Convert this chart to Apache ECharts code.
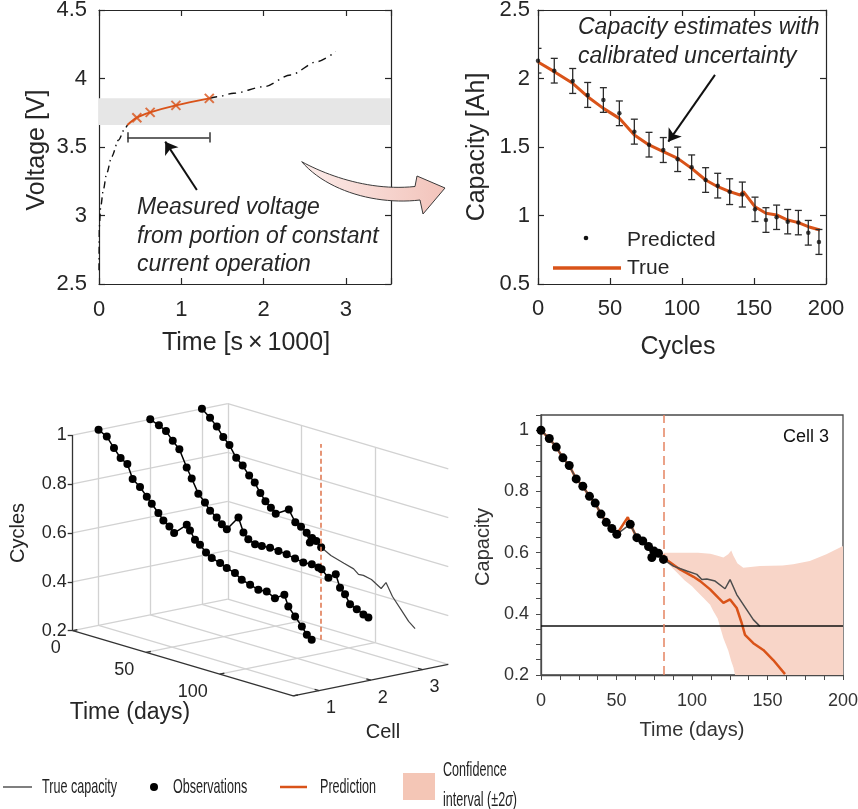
<!DOCTYPE html>
<html>
<head>
<meta charset="utf-8">
<script src="https://cdn.jsdelivr.net/npm/echarts/dist/echarts.min.js"></script>
<style>
  html, body { margin: 0; padding: 0; background: #fff; }
  #chart { width: 858px; height: 809px; }
</style>
</head>
<body>
<div id="chart"></div>
<script>
// ---- panel a: voltage during constant current charge ----
const voltLowTime = [0, 0.004, 0.02, 0.053, 0.094, 0.155, 0.236, 0.317, 0.345];
const voltLowV = [2.6, 2.92, 3.06, 3.19, 3.31, 3.43, 3.55, 3.636, 3.661];
const measTime = [0.345, 0.46, 0.622, 0.935, 1.341];
const measV = [3.661, 3.714, 3.753, 3.804, 3.855];
const voltHighTime = [1.341, 1.435, 1.638, 2.004, 2.33, 2.65, 2.878];
const voltHighV = [3.855, 3.867, 3.892, 3.94, 4.026, 4.123, 4.196];
const voltBand = [3.661, 3.855];
const measSpan = [0.345, 1.341];
const measSpanV = 3.57;
const measArrow = [[1.19, 3.186], [0.805, 3.539]];

// ---- panel b: capacity estimates ----
const cycPred = [0, 11.3, 24.1, 34.5, 45.4, 56.5, 66.9, 77.1, 87, 97, 106.7, 116.4, 124.8, 133.1, 141.9, 150.7, 158.3, 165.7, 173.4, 180.8, 187.7, 195.1];
const capPred = [2.13, 2.057, 1.982, 1.88, 1.843, 1.746, 1.612, 1.517, 1.478, 1.41, 1.352, 1.259, 1.218, 1.174, 1.153, 1.045, 0.967, 0.987, 0.955, 0.948, 0.874, 0.807];
const capErr = [0.09, 0.09, 0.091, 0.091, 0.09, 0.09, 0.091, 0.09, 0.091, 0.089, 0.09, 0.09, 0.09, 0.094, 0.091, 0.089, 0.09, 0.089, 0.089, 0.089, 0.09, 0.091];
const cycTrue = [0, 11.3, 24.1, 34.5, 45.4, 56.5, 66.9, 77.1, 87, 97, 106.7, 116.4, 124.8, 133.1, 140.3, 142.6, 150.7, 158.3, 165.7, 173.4, 180.8, 187.7, 195.8];
const capTrue = [2.12, 2.05, 1.965, 1.867, 1.782, 1.709, 1.588, 1.515, 1.466, 1.417, 1.344, 1.259, 1.21, 1.174, 1.15, 1.174, 1.064, 1.016, 1.004, 0.967, 0.948, 0.918, 0.894];
const capArrow = [[122.9, 2.026], [90.5, 1.539]];

// ---- panel c: three cells, normalised capacity vs days ----
const cell1Day = [0, 5.6, 10.5, 15, 19.6, 23.2, 28.2, 32.8, 36.2, 40.7, 44.1, 48.2, 51.4, 60, 62.2, 65.6, 69, 73.1, 77, 82.7, 87.2, 92.8, 97.4, 103.1, 108.7, 114.4, 120, 126.4, 129.1, 133.7, 138.3, 141.7, 145];
const cell1Cap = [1.0, 0.982, 0.944, 0.911, 0.895, 0.84, 0.816, 0.785, 0.762, 0.732, 0.708, 0.69, 0.669, 0.718, 0.699, 0.667, 0.653, 0.628, 0.613, 0.602, 0.59, 0.579, 0.56, 0.55, 0.539, 0.542, 0.525, 0.55, 0.507, 0.474, 0.442, 0.414, 0.399];
const cell2Day = [0, 5.9, 10.7, 15.3, 19.8, 24.8, 28.2, 32.7, 37.2, 40.7, 45.2, 48.7, 52.1, 60, 63.4, 66.7, 71.3, 75.9, 81.5, 87.2, 92.8, 98.5, 104.1, 109.9, 114.4, 116.6, 121.2, 126.2, 129.1, 132.5, 135.9, 140.5, 145, 148.4];
const cell2Cap = [1.0, 0.986, 0.971, 0.939, 0.913, 0.847, 0.808, 0.754, 0.726, 0.698, 0.679, 0.657, 0.643, 0.705, 0.65, 0.628, 0.616, 0.617, 0.62, 0.617, 0.613, 0.606, 0.6, 0.603, 0.597, 0.594, 0.568, 0.591, 0.541, 0.52, 0.485, 0.473, 0.46, 0.453];
const dayTicks3 = [0, 50, 100];
const cellTicks3 = [1, 2, 3];
const capTicks3 = [0.2, 0.4, 0.6, 0.8, 1];

// ---- panel d: cell 3 observations and forecast ----
const obsDay = [0, 5.5, 10.1, 14.5, 18.7, 23.3, 27.7, 32.1, 35.9, 39.7, 43.2, 46.9, 50.2, 59.1, 63.5, 67.4, 71.2, 73.4, 74.9, 77.8, 81.1];
const obsCap = [1.0, 0.973, 0.945, 0.91, 0.885, 0.841, 0.817, 0.784, 0.762, 0.726, 0.699, 0.679, 0.66, 0.693, 0.649, 0.638, 0.62, 0.584, 0.605, 0.598, 0.578];
const trueTailDay = [87.7, 96.6, 103.2, 106.5, 109.8, 115.3, 121.9, 125.2, 129.6, 136.2, 140.6, 145];
const trueTailCap = [0.556, 0.54, 0.529, 0.512, 0.514, 0.507, 0.482, 0.512, 0.463, 0.414, 0.381, 0.359];
const predDay = [0, 5.5, 10.1, 14.5, 18.7, 23.3, 27.7, 32.1, 35.9, 39.7, 43.2, 46.9, 50.2, 57.5, 59.1, 63.5, 67.4, 71.2, 74.9, 77.8, 81.1, 83.3, 92.1, 101, 105.4, 112, 117.5, 120.8, 125.2, 129.6, 132.9, 135.1, 140.6, 147.2, 153.8, 161.6];
const predCap = [1.0, 0.973, 0.945, 0.91, 0.885, 0.841, 0.817, 0.784, 0.762, 0.726, 0.699, 0.679, 0.66, 0.716, 0.693, 0.649, 0.638, 0.62, 0.6, 0.598, 0.578, 0.576, 0.545, 0.521, 0.507, 0.48, 0.452, 0.436, 0.447, 0.419, 0.37, 0.331, 0.304, 0.282, 0.249, 0.203];
const ciDay = [81.1, 85, 90, 95, 100, 104, 108, 112, 114, 117, 120.8, 124, 126, 127.4, 128.5, 130, 134, 145, 160, 167, 178, 189, 200];
const ciUpper = [0.6, 0.6, 0.6, 0.6, 0.6, 0.6, 0.598, 0.596, 0.594, 0.59, 0.584, 0.595, 0.607, 0.59, 0.58, 0.565, 0.551, 0.556, 0.558, 0.562, 0.573, 0.595, 0.622];
const ciLower = [0.58, 0.56, 0.535, 0.51, 0.49, 0.47, 0.45, 0.43, 0.41, 0.385, 0.32, 0.28, 0.245, 0.225, 0.2, 0.2, 0.2, 0.2, 0.2, 0.2, 0.2, 0.2, 0.2];
const eolCap = 0.357;
const cutDay = 81;

const FONT = '"Liberation Sans", Arial, Helvetica, sans-serif';
const INK = '#262626';
const ORANGE = '#d95319';
const PINK = '#f8d5c8';
const zip = (xs, ys) => xs.map((x, i) => [x, ys[i]]);

// oblique projection of the 3-D box (days, cell, capacity) into the pixel grid
const box3 = { x0: 72.7, y0: 630.7, dxT: 1.47, dyT: 0.435, dxC: 51.7, dyC: -10.5, dyZ: 244.6 };
const dayMax3 = 150, cellMin3 = 0.5, cellMax3 = 3.5, capMin3 = 0.2, capMax3 = 1.0;
function proj(t, c, z) {
  return [box3.x0 + box3.dxT * t + box3.dxC * (c - cellMin3),
          box3.y0 + box3.dyT * t + box3.dyC * (c - cellMin3) - box3.dyZ * (z - capMin3)];
}
const seg = (a, b) => ({ coords: [proj(a[0], a[1], a[2]), proj(b[0], b[1], b[2])] });

const grid3 = [];
[0, 50, 100].forEach(t => grid3.push(seg([t, cellMin3, capMin3], [t, cellMax3, capMin3])));
[1, 2, 3, cellMax3].forEach(c => grid3.push(seg([0, c, capMin3], [dayMax3, c, capMin3])));
[1, 2, 3, cellMax3].forEach(c => grid3.push(seg([0, c, capMin3], [0, c, capMax3])));
[0.4, 0.6, 0.8, 1].forEach(z => grid3.push(seg([0, cellMin3, z], [0, cellMax3, z])));
[50, 100].forEach(t => grid3.push(seg([t, cellMax3, capMin3], [t, cellMax3, capMax3])));
[0.4, 0.6, 0.8, 1].forEach(z => grid3.push(seg([0, cellMax3, z], [dayMax3, cellMax3, z])));

const axes3 = [
  seg([0, cellMin3, capMin3], [0, cellMin3, capMax3]),
  seg([0, cellMin3, capMin3], [dayMax3, cellMin3, capMin3]),
  seg([dayMax3, cellMin3, capMin3], [dayMax3, cellMax3, capMin3])
];
capTicks3.forEach(z => { const p = proj(0, cellMin3, z); axes3.push({ coords: [p, [p[0] - 5, p[1]]] }); });
dayTicks3.concat([dayMax3]).forEach(t => axes3.push(seg([t, cellMin3, capMin3], [t, cellMin3 + 0.09, capMin3])));
cellTicks3.forEach(c => axes3.push(seg([dayMax3, c, capMin3], [dayMax3 - 3, c, capMin3])));

const cellLine = (days, caps, cell) => days.map((t, i) => proj(t, cell, caps[i]));
const cell3Obs = cellLine(obsDay, obsCap, 3);
const cell3Tail = [proj(obsDay[obsDay.length - 1], 3, obsCap[obsCap.length - 1])].concat(cellLine(trueTailDay, trueTailCap, 3));

function txt(x, y, text, size, o) {
  o = o || {};
  const style = {
    text, fill: o.color || INK, font: (o.italic ? 'italic ' : '') + size + 'px ' + FONT,
    align: o.align || 'center', verticalAlign: 'middle'
  };
  if (o.rich) style.rich = o.rich;
  return { type: 'text', x, y, rotation: o.rotation || 0, scaleX: o.scaleX || 1, silent: true, z: 100, style };
}

// cubic bezier sampler for the curved block arrow outline
function bez(p0, p1, p2, p3, n) {
  const out = [];
  for (let i = 0; i <= n; i++) {
    const s = i / n, u = 1 - s;
    out.push([u * u * u * p0[0] + 3 * u * u * s * p1[0] + 3 * u * s * s * p2[0] + s * s * s * p3[0],
              u * u * u * p0[1] + 3 * u * u * s * p1[1] + 3 * u * s * s * p2[1] + s * s * s * p3[1]]);
  }
  return out;
}
const arrowPts = bez([301.7, 161.7], [330, 177], [372, 191], [415, 186.5], 24)
  .concat([[417, 176], [445, 188], [423, 214]])
  .concat(bez([420, 200], [378, 205], [328, 192], [301.7, 161.7], 24));

function frameAxis(gridIndex, min, max, interval, position, label) {
  return {
    type: 'value', gridIndex, min, max, interval, position,
    axisLine: { show: true, onZero: false, lineStyle: { color: INK, width: 1.2 } },
    axisTick: { show: true, inside: true, length: 6, lineStyle: { color: INK, width: 1.2 } },
    axisLabel: label ? Object.assign({ show: true, fontSize: 22, color: INK, fontFamily: FONT }, label) : { show: false },
    splitLine: { show: false }
  };
}

const graphic = [];
graphic.push(txt(37, 150, 'Voltage [V]', 25, { rotation: Math.PI / 2 }));
graphic.push(txt(246, 343, 'Time [s\u2009\u00d7\u20091000]', 25));
graphic.push(txt(137, 208, 'Measured voltage', 23, { italic: true, align: 'left' }));
graphic.push(txt(137, 237, 'from portion of constant', 23, { italic: true, align: 'left' }));
graphic.push(txt(137, 265, 'current operation', 23, { italic: true, align: 'left' }));
graphic.push(txt(477, 147, 'Capacity [Ah]', 25, { rotation: Math.PI / 2 }));
graphic.push(txt(678, 347, 'Cycles', 25));
graphic.push(txt(578, 28, 'Capacity estimates with', 23, { italic: true, align: 'left' }));
graphic.push(txt(578, 57, 'calibrated uncertainty', 23, { italic: true, align: 'left' }));
graphic.push({ type: 'circle', shape: { cx: 586, cy: 238, r: 2.3 }, style: { fill: '#111' }, silent: true });
graphic.push(txt(627, 240, 'Predicted', 21, { align: 'left' }));
graphic.push({ type: 'line', shape: { x1: 553, y1: 268, x2: 621, y2: 268 }, style: { stroke: ORANGE, lineWidth: 3.5 }, silent: true });
graphic.push(txt(627, 268, 'True', 21, { align: 'left' }));
graphic.push({
  type: 'polygon', silent: true, z: 50,
  shape: { points: arrowPts },
  style: {
    fill: new echarts.graphic.LinearGradient(0, 0, 1, 0, [{ offset: 0, color: '#fcecea' }, { offset: 1, color: '#f2c3ba' }]),
    stroke: '#3a3a3a', lineWidth: 1
  }
});
capTicks3.forEach(z => { const p = proj(0, cellMin3, z); graphic.push(txt(p[0] - 6, p[1], String(z), 18, { align: 'right' })); });
dayTicks3.forEach(t => { const p = proj(t, cellMin3, capMin3); graphic.push(txt(p[0] - 12, p[1] + 17.5, String(t), 18, { align: 'right' })); });
cellTicks3.forEach(c => { const p = proj(dayMax3, c, capMin3); graphic.push(txt(p[0] + 12, p[1] + 17.5, String(c), 18)); });
graphic.push(txt(18, 533, 'Cycles', 20, { rotation: Math.PI / 2 }));
graphic.push(txt(130, 713, 'Time (days)', 23));
graphic.push(txt(383, 732, 'Cell', 20));
graphic.push(txt(483, 547, 'Capacity', 20, { rotation: Math.PI / 2, color: '#333' }));
graphic.push(txt(692, 730, 'Time (days)', 20, { color: '#333' }));
graphic.push(txt(806, 437, 'Cell 3', 18, { color: '#111' }));
graphic.push({ type: 'line', shape: { x1: 3, y1: 787, x2: 32, y2: 787 }, style: { stroke: '#555', lineWidth: 1.5 }, silent: true });
graphic.push(txt(42, 787, 'True capacity', 21, { align: 'left', scaleX: 0.6, color: '#222' }));
graphic.push({ type: 'circle', shape: { cx: 154, cy: 787, r: 4 }, style: { fill: '#000' }, silent: true });
graphic.push(txt(173, 787, 'Observations', 21, { align: 'left', scaleX: 0.6, color: '#222' }));
graphic.push({ type: 'line', shape: { x1: 280, y1: 787, x2: 307, y2: 787 }, style: { stroke: ORANGE, lineWidth: 2.5 }, silent: true });
graphic.push(txt(320, 787, 'Prediction', 21, { align: 'left', scaleX: 0.6, color: '#222' }));
graphic.push({ type: 'rect', shape: { x: 403, y: 773, width: 32, height: 27 }, style: { fill: '#f4c6b6' }, silent: true });
graphic.push(txt(443, 770, 'Confidence', 21, { align: 'left', scaleX: 0.6, color: '#222' }));
graphic.push(txt(443, 800, 'interval (\u00b12{s|\u03c3})', 21, {
  align: 'left', scaleX: 0.6, color: '#222',
  rich: { s: { fontStyle: 'italic', fontSize: 21, fontFamily: FONT, fill: '#222' } }
}));

const chart = echarts.init(document.getElementById('chart'), null, { renderer: 'canvas' });
chart.setOption({
  animation: false,
  backgroundColor: '#fff',
  textStyle: { fontFamily: FONT },
  grid: [
    { left: 99, top: 10, width: 292, height: 274, outerBoundsMode: 'none' },
    { left: 538, top: 10, width: 288, height: 274, outerBoundsMode: 'none' },
    { left: 541, top: 415, width: 302, height: 260, outerBoundsMode: 'none', show: true, borderColor: '#4a4a4a', borderWidth: 1.3, backgroundColor: 'transparent' },
    { left: 0, top: 0, width: 858, height: 809, outerBoundsMode: 'none' }
  ],
  xAxis: [
    frameAxis(0, 0, 3.55, 1, 'bottom', { margin: 15, formatter: v => Number.isInteger(v) ? String(v) : '' }),
    frameAxis(0, 0, 3.55, 1, 'top', null),
    frameAxis(1, 0, 200, 50, 'bottom', { margin: 14 }),
    frameAxis(1, 0, 200, 50, 'top', null),
    {
      type: 'value', gridIndex: 2, min: 0, max: 200, interval: 12.5,
      axisLine: { onZero: false, lineStyle: { color: '#4a4a4a', width: 1.3 } },
      axisTick: { show: true, length: 5, lineStyle: { color: '#4a4a4a', width: 1 } },
      axisLabel: { fontSize: 18, color: '#333', margin: 17, fontFamily: FONT, formatter: v => (v % 50 === 0 ? String(v) : '') },
      splitLine: { show: false }
    },
    { type: 'value', gridIndex: 3, min: 0, max: 858, show: false }
  ],
  yAxis: [
    frameAxis(0, 2.5, 4.5, 0.5, 'left', { margin: 12 }),
    frameAxis(0, 2.5, 4.5, 0.5, 'right', null),
    frameAxis(1, 0.5, 2.5, 0.5, 'left', { margin: 8 }),
    frameAxis(1, 0.5, 2.5, 0.5, 'right', null),
    {
      type: 'value', gridIndex: 2, min: 0.2, max: 1.05, interval: 0.05,
      axisLine: { onZero: false, lineStyle: { color: '#4a4a4a', width: 1.3 } },
      axisTick: { show: true, length: 5, lineStyle: { color: '#4a4a4a', width: 1 } },
      axisLabel: {
        fontSize: 18, color: '#333', margin: 12, fontFamily: FONT,
        formatter: v => { const r = Math.round(v * 100) / 100; return Math.abs(r * 5 - Math.round(r * 5)) < 1e-6 ? String(r) : ''; }
      },
      splitLine: { show: false }
    },
    { type: 'value', gridIndex: 3, min: 0, max: 809, inverse: true, show: false }
  ],
  series: [
    // ---- panel a ----
    {
      type: 'line', xAxisIndex: 0, yAxisIndex: 0, z: 3, showSymbol: false, smooth: 0.3, smoothMonotone: 'x',
      data: zip(voltLowTime, voltLowV), lineStyle: { color: '#111', width: 1.4, type: [7, 4, 1.5, 4] }
    },
    {
      type: 'line', xAxisIndex: 0, yAxisIndex: 0, z: 3, showSymbol: false, smooth: 0.3, smoothMonotone: 'x',
      data: zip(voltHighTime, voltHighV), lineStyle: { color: '#111', width: 1.4, type: [8, 5, 1.5, 5] },
      markArea: { silent: true, itemStyle: { color: '#e6e6e6', opacity: 1 }, data: [[{ yAxis: voltBand[0] }, { yAxis: voltBand[1] }]] }
    },
    {
      type: 'line', xAxisIndex: 0, yAxisIndex: 0, z: 4, showSymbol: false, smooth: 0.3,
      data: zip(measTime, measV), lineStyle: { color: ORANGE, width: 2 }
    },
    {
      type: 'scatter', xAxisIndex: 0, yAxisIndex: 0, z: 5, symbol: 'path://M0 0L10 10M10 0L0 10', symbolSize: 9,
      data: zip(measTime.slice(1), measV.slice(1)), itemStyle: { color: 'none', borderColor: ORANGE, borderWidth: 2 }
    },
    {
      type: 'lines', coordinateSystem: 'cartesian2d', xAxisIndex: 0, yAxisIndex: 0, z: 5,
      lineStyle: { color: '#333', width: 1.5, curveness: 0, opacity: 1 },
      data: [
        { coords: [[measSpan[0], measSpanV], [measSpan[1], measSpanV]] },
        { coords: [[measSpan[0], measSpanV - 0.037], [measSpan[0], measSpanV + 0.037]] },
        { coords: [[measSpan[1], measSpanV - 0.037], [measSpan[1], measSpanV + 0.037]] }
      ]
    },
    {
      type: 'lines', coordinateSystem: 'cartesian2d', xAxisIndex: 0, yAxisIndex: 0, z: 5,
      symbol: ['none', 'arrow'], symbolSize: 12, lineStyle: { color: '#111', width: 2, curveness: 0, opacity: 1 },
      data: [{ coords: measArrow }]
    },
    // ---- panel b ----
    {
      type: 'line', xAxisIndex: 2, yAxisIndex: 2, z: 3, showSymbol: false,
      data: zip(cycTrue, capTrue), lineStyle: { color: ORANGE, width: 3 }
    },
    {
      type: 'custom', xAxisIndex: 2, yAxisIndex: 2, z: 4, clip: true,
      data: cycPred.map((c, i) => [c, capPred[i], capErr[i]]), encode: { x: 0, y: 1 },
      renderItem: (params, api) => {
        const c = api.value(0), v = api.value(1), e = api.value(2);
        const top = api.coord([c, v + e]), bot = api.coord([c, v - e]);
        const w = 3.5, st = { stroke: '#2b2b2b', lineWidth: 1.3 };
        return {
          type: 'group', children: [
            { type: 'line', shape: { x1: top[0], y1: top[1], x2: bot[0], y2: bot[1] }, style: st },
            { type: 'line', shape: { x1: top[0] - w, y1: top[1], x2: top[0] + w, y2: top[1] }, style: st },
            { type: 'line', shape: { x1: bot[0] - w, y1: bot[1], x2: bot[0] + w, y2: bot[1] }, style: st }
          ]
        };
      }
    },
    {
      type: 'scatter', xAxisIndex: 2, yAxisIndex: 2, z: 5, symbolSize: 4.5,
      data: zip(cycPred, capPred), itemStyle: { color: '#111' }
    },
    {
      type: 'lines', coordinateSystem: 'cartesian2d', xAxisIndex: 2, yAxisIndex: 2, z: 5,
      symbol: ['none', 'arrow'], symbolSize: 12, lineStyle: { color: '#111', width: 2, curveness: 0, opacity: 1 },
      data: [{ coords: capArrow }]
    },
    // ---- panel d ----
    {
      type: 'custom', xAxisIndex: 4, yAxisIndex: 4, z: 1, clip: true,
      data: [[ciDay[0], ciUpper[0]]],
      renderItem: (params, api) => {
        const pts = ciDay.map((d, i) => api.coord([d, ciUpper[i]]));
        for (let i = ciDay.length - 1; i >= 0; i--) pts.push(api.coord([ciDay[i], ciLower[i]]));
        return { type: 'polygon', shape: { points: pts }, style: { fill: PINK } };
      }
    },
    {
      type: 'line', xAxisIndex: 4, yAxisIndex: 4, z: 3, showSymbol: false,
      data: zip(predDay, predCap), lineStyle: { color: ORANGE, width: 2.5 },
      markLine: {
        silent: true, symbol: 'none', label: { show: false },
        data: [
          { yAxis: eolCap, lineStyle: { color: '#111', width: 1.5, type: 'solid', opacity: 1 } },
          { xAxis: cutDay, lineStyle: { color: '#e58462', width: 1.5, type: [9, 5], opacity: 1 } }
        ]
      }
    },
    {
      type: 'line', xAxisIndex: 4, yAxisIndex: 4, z: 4, showSymbol: false,
      data: zip(obsDay, obsCap).concat(zip(trueTailDay, trueTailCap)), lineStyle: { color: '#4d4d4d', width: 1.5 }
    },
    {
      type: 'scatter', xAxisIndex: 4, yAxisIndex: 4, z: 5, symbolSize: 9,
      data: zip(obsDay, obsCap), itemStyle: { color: '#000', opacity: 1 }
    },
    // ---- panel c (projected 3-D) ----
    {
      type: 'lines', coordinateSystem: 'cartesian2d', xAxisIndex: 5, yAxisIndex: 5, z: 1,
      lineStyle: { color: '#d2d2d2', width: 1.3, curveness: 0, opacity: 1 }, data: grid3
    },
    {
      type: 'lines', coordinateSystem: 'cartesian2d', xAxisIndex: 5, yAxisIndex: 5, z: 2,
      lineStyle: { color: '#333', width: 1.3, curveness: 0, opacity: 1 }, data: axes3
    },
    {
      type: 'line', xAxisIndex: 5, yAxisIndex: 5, z: 3, showSymbol: false,
      data: cell3Tail, lineStyle: { color: '#444', width: 1.2 }
    },
    {
      type: 'line', xAxisIndex: 5, yAxisIndex: 5, z: 3, symbol: 'circle', symbolSize: 8, showSymbol: true,
      data: cell3Obs, lineStyle: { color: '#000', width: 1.5 }, itemStyle: { color: '#000' }
    },
    {
      type: 'lines', coordinateSystem: 'cartesian2d', xAxisIndex: 5, yAxisIndex: 5, z: 4,
      lineStyle: { color: '#e07b54', width: 1.6, type: [5, 3], curveness: 0, opacity: 1 },
      data: [seg([cutDay, 3, capMin3], [cutDay, 3, capMax3])]
    },
    {
      type: 'line', xAxisIndex: 5, yAxisIndex: 5, z: 5, symbol: 'circle', symbolSize: 8, showSymbol: true,
      data: cellLine(cell2Day, cell2Cap, 2), lineStyle: { color: '#000', width: 1.5 }, itemStyle: { color: '#000' }
    },
    {
      type: 'line', xAxisIndex: 5, yAxisIndex: 5, z: 6, symbol: 'circle', symbolSize: 8, showSymbol: true,
      data: cellLine(cell1Day, cell1Cap, 1), lineStyle: { color: '#000', width: 1.5 }, itemStyle: { color: '#000' }
    }
  ],
  graphic: graphic
});
</script>
</body>
</html>
